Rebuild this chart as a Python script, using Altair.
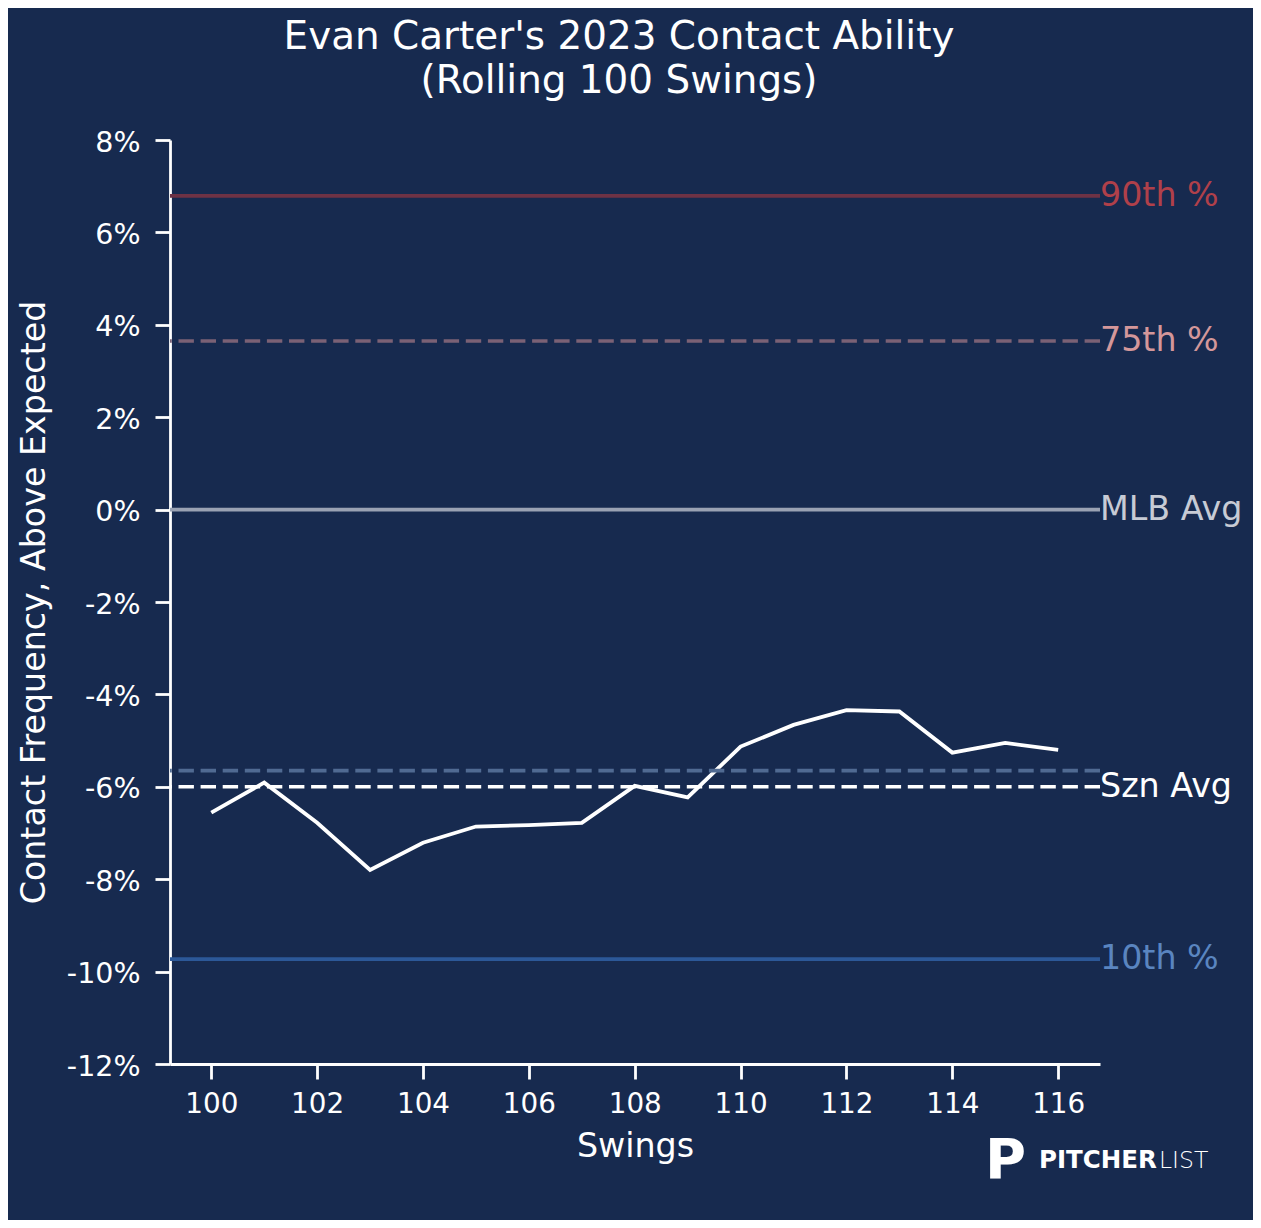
import altair as alt
import pandas as pd

# ---- data ----
swings = list(range(100, 117))
contact = [-6.56, -5.91, -6.78, -7.80, -7.21, -6.86, -6.83, -6.78, -5.98,
           -6.23, -5.13, -4.66, -4.34, -4.37, -5.26, -5.05, -5.20]

ref_names = ["90th %", "75th %", "MLB Avg", "Szn Avg", "10th %"]
ref_values = [6.79, 3.65, 0.0, -6.0, -9.73]
ref_line_colors = ["#6e3245", "#7b6175", "#9aa2b3", "#ffffff", "#2c5898"]
ref_label_colors = ["#b0404a", "#d4979a", "#c7cbd5", "#ffffff", "#5a85c0"]
ref_dashed = [False, True, False, True, False]

light_ref_value = [-5.65]

x_ticks = list(range(100, 117, 2))
y_ticks = list(range(-12, 9, 2))

title_lines = ["Evan Carter's 2023 Contact Ability", "(Rolling 100 Swings)"]

BG = "#172a4f"
FONT = "DejaVu Sans"
W, H = 930, 924

df = pd.DataFrame({"swings": swings, "contact": contact})
refs = pd.DataFrame({"name": ref_names, "value": ref_values,
                     "lc": ref_line_colors, "tc": ref_label_colors,
                     "dashed": ref_dashed})
light = pd.DataFrame({"value": light_ref_value})
one = pd.DataFrame({"k": [0]})

xscale = alt.Scale(domain=[99.22, 116.79], nice=False, zero=False)
yscale = alt.Scale(domain=[-12, 8], nice=False, zero=False)

xaxis = alt.Axis(values=x_ticks, format="d", title="Swings",
                 labelFontSize=27.8, labelColor="white", labelFont=FONT,
                 tickSize=15, tickWidth=2.8, tickColor="white",
                 domainColor="white", domainWidth=2.8,
                 labelPadding=11, grid=False,
                 titleFontSize=33.3, titleColor="white", titleFont=FONT,
                 titleFontWeight="normal", titleBaseline="alphabetic",
                 titleY=92, titleX=W / 2)
yaxis = alt.Axis(values=y_ticks, labelExpr="datum.value + '%'",
                 title="Contact Frequency, Above Expected",
                 labelFontSize=28.5, labelColor="white", labelFont=FONT,
                 tickSize=15, tickWidth=2.8, tickColor="white",
                 domainColor="white", domainWidth=2.8,
                 labelPadding=15, labelOffset=2, grid=False,
                 titleFontSize=33.3, titleColor="white", titleFont=FONT,
                 titleFontWeight="normal", titleBaseline="alphabetic",
                 titleX=-126, titleY=H / 2)

line = alt.Chart(df).mark_line(color="white", strokeWidth=3.8).encode(
    x=alt.X("swings:Q", scale=xscale, axis=xaxis),
    y=alt.Y("contact:Q", scale=yscale, axis=yaxis),
)

solid = alt.Chart(refs).transform_filter("!datum.dashed").mark_rule(strokeWidth=3.6).encode(
    y=alt.Y("value:Q", scale=yscale, axis=yaxis),
    color=alt.Color("lc:N", scale=None),
)
dashed = alt.Chart(refs).transform_filter("datum.dashed").mark_rule(
    strokeWidth=3.6, strokeDash=[15.4, 6.7]).encode(
    y=alt.Y("value:Q", scale=yscale, axis=yaxis),
    color=alt.Color("lc:N", scale=None),
)
light_rule = alt.Chart(light).mark_rule(strokeWidth=3.6, strokeDash=[15.4, 6.7],
                                        color="#506a92").encode(
    y=alt.Y("value:Q", scale=yscale, axis=yaxis),
)
labels = alt.Chart(refs).mark_text(align="left", baseline="middle", fontSize=33.3,
                                   font=FONT).encode(
    x=alt.value(W),
    y=alt.Y("value:Q", scale=yscale, axis=yaxis),
    text="name:N",
    color=alt.Color("tc:N", scale=None),
)

title = alt.Chart(one).mark_text(align="center", baseline="alphabetic", fontSize=38.9,
                                 font=FONT, color="white", lineHeight=44).encode(
    x=alt.value(449), y=alt.value(-90.7), text=alt.value(title_lines))

logo_icon = alt.Chart(one).mark_text(align="left", baseline="alphabetic", fontSize=56,
                                     font=FONT, fontWeight="bold", color="white").encode(
    x=alt.value(815), y=alt.value(1038), text=alt.value("P"))
logo_a = alt.Chart(one).mark_text(align="left", baseline="alphabetic", fontSize=24.5,
                                  font=FONT, fontWeight="bold", color="white").encode(
    x=alt.value(869), y=alt.value(1027.7), text=alt.value("PITCHER"))
logo_b = alt.Chart(one).mark_text(align="left", baseline="alphabetic", fontSize=23.5,
                                  font=FONT, fontWeight=200, color="white").encode(
    x=alt.value(989), y=alt.value(1027.7), text=alt.value("LIST"))

chart = alt.layer(line, solid, dashed, light_rule, labels, title,
                  logo_icon, logo_a, logo_b).properties(
    width=W, height=H,
    background=BG,
    autosize=alt.AutoSizeParams(type="none"),
    padding={"left": 162, "top": 132, "right": 153, "bottom": 156},
).configure_view(stroke=None)

chart.save("out.html", embed_options={"renderer": "svg", "actions": False})
